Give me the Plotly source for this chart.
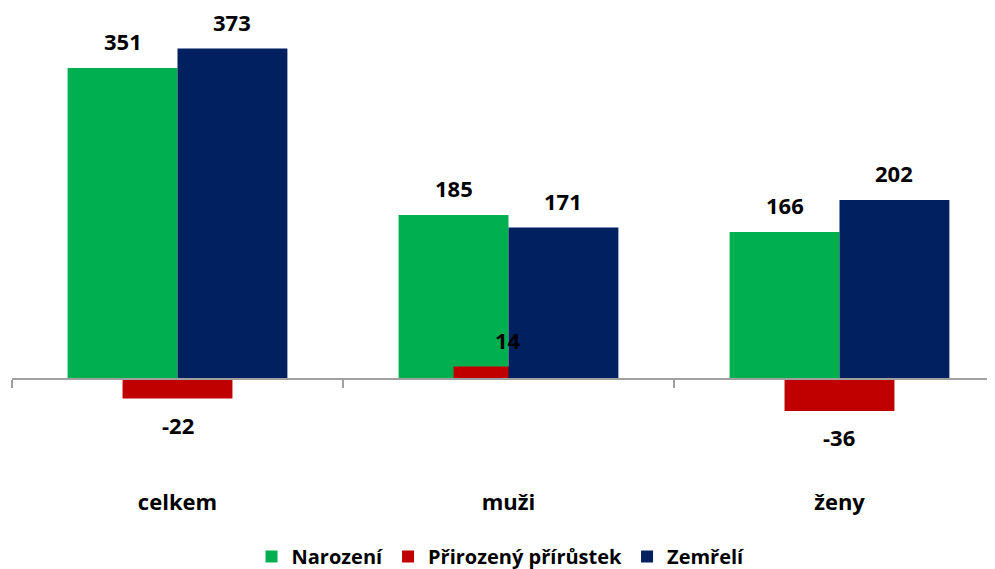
import plotly.graph_objects as go

categories = ['celkem', 'muži', 'ženy']
narozeni = [351, 185, 166]
prirustek = [-22, 14, -36]
zemreli = [373, 171, 202]

BAR_W = 0.332
Y_MIN, Y_MAX = -102.7, 416.5
FONT = 'Open Sans'
AXIS_GRAY = '#A0A0A0'

fig = go.Figure()

# (name, values, colour, bar offset) - red bar sits centred between the two others
series = [
    ('Narození', narozeni, '#00B050', -BAR_W),
    ('Přirozený přírůstek', prirustek, '#C00000', -BAR_W / 2),
    ('Zemřelí', zemreli, '#002060', 0),
]

for name, vals, color, off in series:
    fig.add_trace(go.Bar(
        x=categories,
        y=vals,
        name=name,
        width=BAR_W,
        offset=off,
        marker=dict(color=color, line=dict(width=0)),
    ))
    # data labels, kept a bit away from the bar ends like in Excel
    for i, v in enumerate(vals):
        fig.add_annotation(
            x=i + off + BAR_W / 2, y=v,
            text=str(v),
            showarrow=False,
            yanchor='middle',
            yshift=27 if v > 0 else -26,
            font=dict(family=FONT, size=22, color='black', weight='bold'),
        )

# the page body has an 8px margin, so the figure is nudged up/left a bit
fig.update_layout(
    width=995,
    height=569,
    barmode='overlay',
    paper_bgcolor='white',
    plot_bgcolor='white',
    margin=dict(l=4, r=0, t=2, b=107, autoexpand=False),
    showlegend=True,
    legend=dict(
        orientation='h',
        xref='container', yref='container',
        x=0.495, xanchor='center',
        y=0.036, yanchor='middle',
        font=dict(family=FONT, size=20, color='black', weight='bold'),
        traceorder='normal',
    ),
    xaxis=dict(
        type='category',
        range=[-0.5, 2.494],
        tickson='boundaries',
        ticks='outside',
        ticklen=8,
        tickwidth=1.5,
        tickcolor=AXIS_GRAY,
        showline=True,
        linecolor=AXIS_GRAY,
        linewidth=1.5,
        showgrid=False,
        automargin=False,
        anchor='free',
        position=-Y_MIN / (Y_MAX - Y_MIN),
        ticklabelstandoff=104,
        tickfont=dict(family=FONT, size=22, color='black', weight='bold'),
    ),
    yaxis=dict(
        range=[Y_MIN, Y_MAX],
        visible=False,
        showgrid=False,
        zeroline=False,
        automargin=False,
    ),
)

fig.write_html("out.html")
